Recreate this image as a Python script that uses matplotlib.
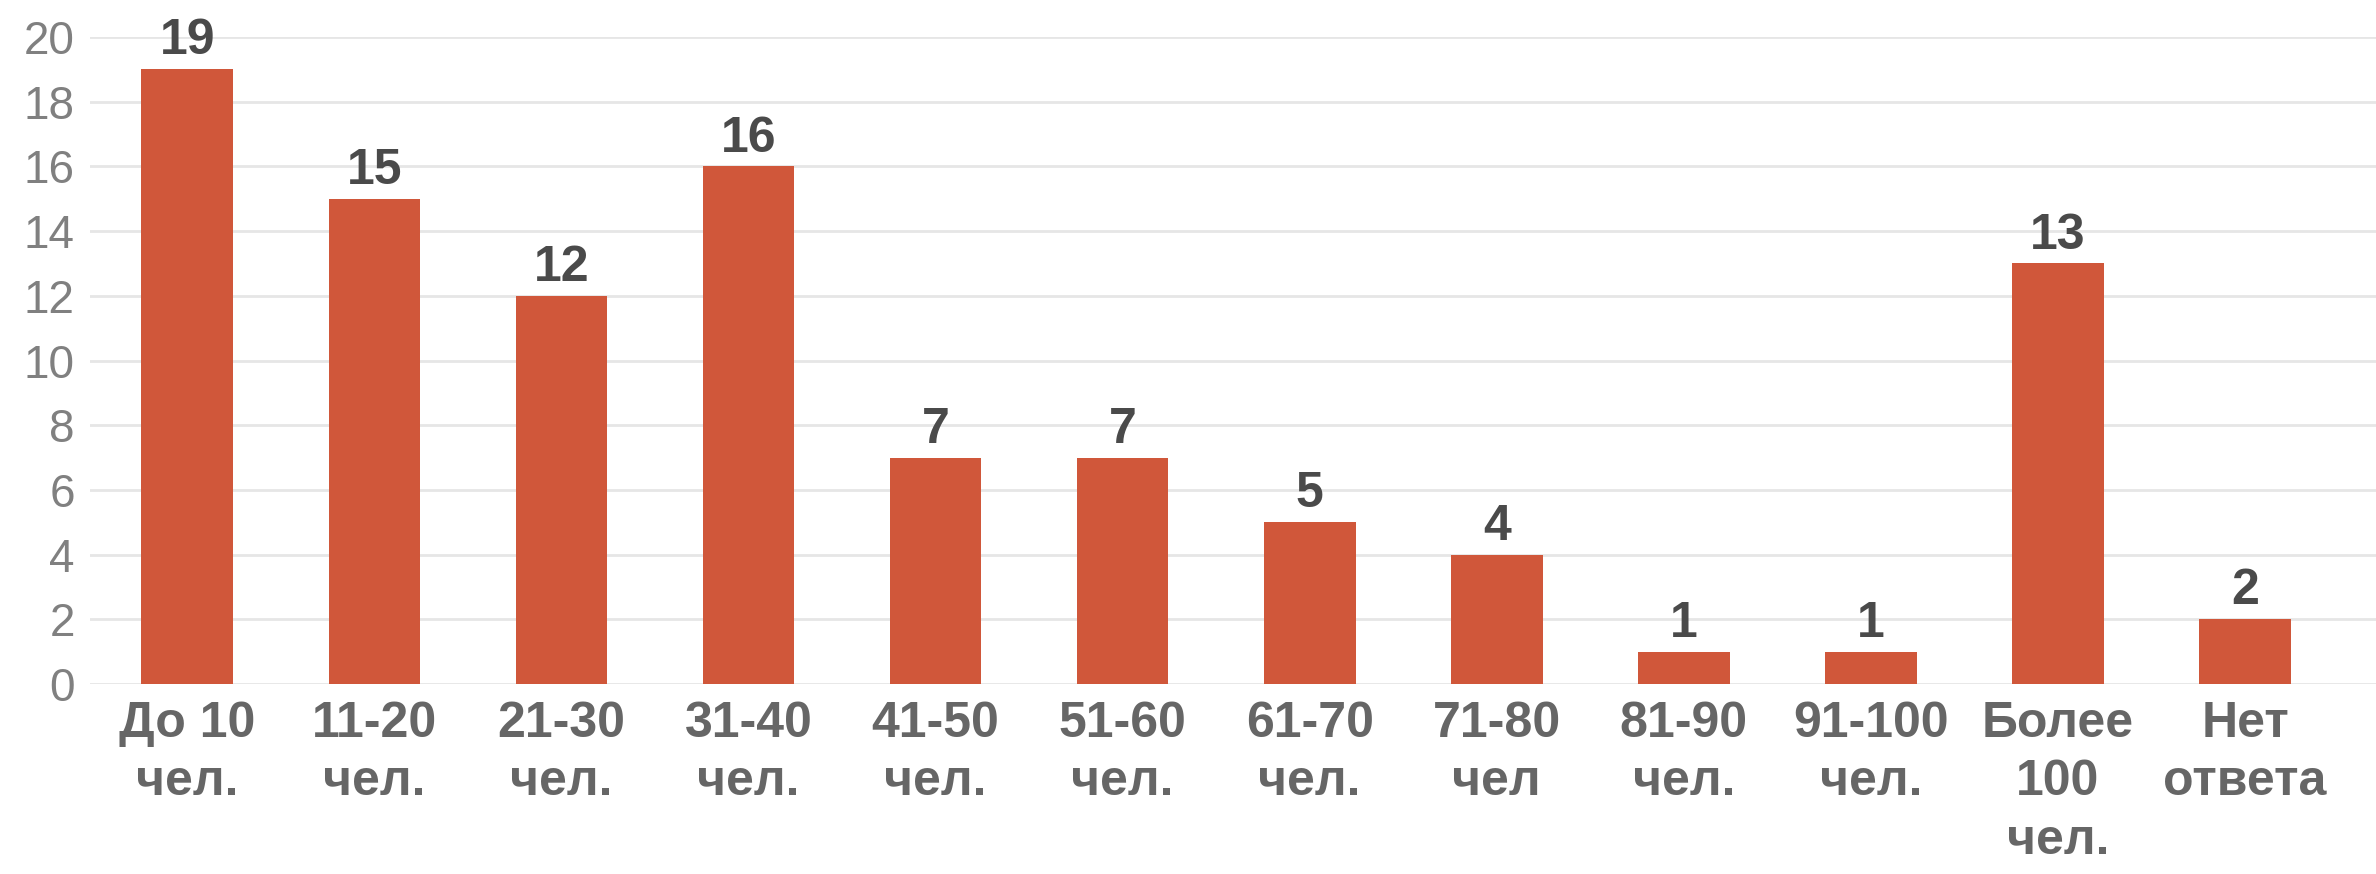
import matplotlib
matplotlib.use("Agg")
import matplotlib.pyplot as plt

categories = ["До 10\nчел.", "11-20\nчел.", "21-30\nчел.", "31-40\nчел.",
              "41-50\nчел.", "51-60\nчел.", "61-70\nчел.", "71-80\nчел",
              "81-90\nчел.", "91-100\nчел.", "Более\n100\nчел.", "Нет\nответа"]
counts = [19, 15, 12, 16, 7, 7, 5, 4, 1, 1, 13, 2]
yticks = list(range(0, 21, 2))

plt.rcParams['font.family'] = ['Liberation Sans', 'DejaVu Sans']

W, H = 2376, 874
fig = plt.figure(figsize=(W / 100, H / 100), dpi=100)
ax = fig.add_axes([90 / W, 190 / H, (W - 90) / W, (684 - 37) / H])

x = range(len(categories))
ax.bar(x, counts, width=0.49, color="#D0573A", zorder=3)

# подписи значений над столбцами
for xi, v in zip(x, counts):
    ax.text(xi, v + 0.15, str(v), ha="center", va="bottom",
            fontsize=36, fontweight="bold", color="#4a4a4a")

ax.set_xlim(-0.52, 11.7)
ax.set_ylim(0, 20)
ax.set_yticks(yticks)
ax.yaxis.grid(True, color="#E6E6E6", linewidth=2, zorder=0)
ax.set_axisbelow(True)
for s in ax.spines.values():
    s.set_visible(False)

ax.tick_params(axis="y", length=0, pad=11, labelsize=33, labelcolor="#808080")
ax.tick_params(axis="x", length=0, pad=12)
ax.set_xticks(list(x))
ax.set_xticklabels(categories, fontsize=36, fontweight="bold", color="#666666",
                   linespacing=1.35)

fig.savefig("out.png", dpi=100, facecolor="white")
